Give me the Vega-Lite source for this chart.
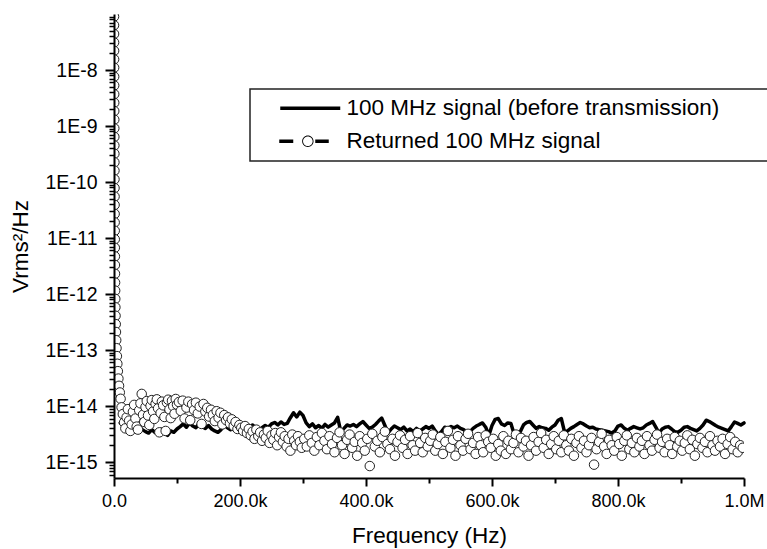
{
  "$schema": "https://vega.github.io/schema/vega-lite/v6.json",
  "autosize": {"type": "none"},
  "width": 630,
  "height": 464,
  "padding": {"left": 114, "top": 14, "right": 23, "bottom": 71},
  "background": "white",
  "config": {
    "font": "Liberation Sans",
    "view": {"stroke": null},
    "axis": {"grid": false, "domainColor": "black", "tickColor": "black", "labelColor": "black", "titleColor": "black", "titleFontWeight": "normal", "labelFont": "Liberation Sans", "titleFont": "Liberation Sans"}
  },
  "datasets": {
    "a": [
      {"f":10000,"v":5.0e-15},{"f":15000,"v":4.4e-15},{"f":20000,"v":5.3e-15},{"f":25000,"v":4.6e-15},{"f":30000,"v":4.0e-15},{"f":35000,"v":4.8e-15},{"f":40000,"v":4.2e-15},{"f":45000,"v":3.8e-15},{"f":50000,"v":3.5e-15},{"f":55000,"v":3.3e-15},
      {"f":60000,"v":3.8e-15},{"f":65000,"v":3.4e-15},{"f":70000,"v":3.2e-15},{"f":75000,"v":3.9e-15},{"f":80000,"v":3.3e-15},{"f":85000,"v":3.0e-15},{"f":90000,"v":3.6e-15},{"f":95000,"v":3.4e-15},{"f":100000,"v":3.9e-15},{"f":105000,"v":4.3e-15},
      {"f":110000,"v":4.8e-15},{"f":115000,"v":4.2e-15},{"f":120000,"v":5.0e-15},{"f":125000,"v":4.4e-15},{"f":130000,"v":4.1e-15},{"f":135000,"v":4.9e-15},{"f":140000,"v":4.3e-15},{"f":145000,"v":4.0e-15},{"f":150000,"v":4.5e-15},{"f":155000,"v":3.9e-15},
      {"f":160000,"v":3.6e-15},{"f":165000,"v":3.4e-15},{"f":170000,"v":3.8e-15},{"f":175000,"v":4.6e-15},{"f":180000,"v":4.1e-15},{"f":185000,"v":3.8e-15},{"f":190000,"v":4.3e-15},{"f":195000,"v":3.9e-15},{"f":200000,"v":4.4e-15},{"f":205000,"v":4.0e-15},
      {"f":210000,"v":3.7e-15},{"f":215000,"v":4.2e-15},{"f":220000,"v":4.6e-15},{"f":225000,"v":4.0e-15},{"f":230000,"v":3.6e-15},{"f":235000,"v":4.1e-15},{"f":240000,"v":4.5e-15},{"f":245000,"v":4.2e-15},{"f":250000,"v":4.8e-15},{"f":255000,"v":5.1e-15},
      {"f":260000,"v":4.6e-15},{"f":265000,"v":5.2e-15},{"f":270000,"v":4.7e-15},{"f":275000,"v":4.9e-15},{"f":280000,"v":6.2e-15},{"f":285000,"v":7.6e-15},{"f":290000,"v":6.4e-15},{"f":295000,"v":7.8e-15},{"f":300000,"v":6.8e-15},{"f":305000,"v":5.0e-15},
      {"f":310000,"v":4.3e-15},{"f":315000,"v":4.8e-15},{"f":320000,"v":4.1e-15},{"f":325000,"v":4.5e-15},{"f":330000,"v":4.0e-15},{"f":335000,"v":4.7e-15},{"f":340000,"v":4.2e-15},{"f":345000,"v":4.6e-15},{"f":350000,"v":5.0e-15},{"f":355000,"v":6.3e-15},
      {"f":360000,"v":3.5e-15},{"f":365000,"v":4.0e-15},{"f":370000,"v":4.6e-15},{"f":375000,"v":4.4e-15},{"f":380000,"v":4.7e-15},{"f":385000,"v":4.3e-15},{"f":390000,"v":4.8e-15},{"f":395000,"v":5.3e-15},{"f":400000,"v":4.6e-15},{"f":405000,"v":4.0e-15},
      {"f":410000,"v":4.2e-15},{"f":415000,"v":4.7e-15},{"f":420000,"v":5.4e-15},{"f":425000,"v":6.1e-15},{"f":430000,"v":4.5e-15},{"f":435000,"v":3.3e-15},{"f":440000,"v":3.9e-15},{"f":445000,"v":4.4e-15},{"f":450000,"v":4.1e-15},{"f":455000,"v":3.8e-15},
      {"f":460000,"v":4.2e-15},{"f":465000,"v":3.6e-15},{"f":470000,"v":3.9e-15},{"f":475000,"v":3.5e-15},{"f":480000,"v":4.0e-15},{"f":485000,"v":3.6e-15},{"f":490000,"v":3.9e-15},{"f":495000,"v":4.3e-15},{"f":500000,"v":4.0e-15},{"f":505000,"v":4.4e-15},
      {"f":510000,"v":3.6e-15},{"f":515000,"v":3.1e-15},{"f":520000,"v":3.5e-15},{"f":525000,"v":4.2e-15},{"f":530000,"v":4.0e-15},{"f":535000,"v":4.3e-15},{"f":540000,"v":4.1e-15},{"f":545000,"v":4.4e-15},{"f":550000,"v":4.0e-15},{"f":555000,"v":3.8e-15},
      {"f":560000,"v":3.4e-15},{"f":565000,"v":3.5e-15},{"f":570000,"v":4.0e-15},{"f":575000,"v":4.4e-15},{"f":580000,"v":4.7e-15},{"f":585000,"v":5.0e-15},{"f":590000,"v":4.2e-15},{"f":595000,"v":3.0e-15},{"f":600000,"v":4.5e-15},{"f":605000,"v":5.8e-15},
      {"f":610000,"v":6.0e-15},{"f":615000,"v":4.8e-15},{"f":620000,"v":4.5e-15},{"f":625000,"v":5.0e-15},{"f":630000,"v":4.9e-15},{"f":635000,"v":3.2e-15},{"f":640000,"v":2.8e-15},{"f":645000,"v":3.5e-15},{"f":650000,"v":4.6e-15},{"f":655000,"v":5.1e-15},
      {"f":660000,"v":5.3e-15},{"f":665000,"v":4.6e-15},{"f":670000,"v":4.0e-15},{"f":675000,"v":4.3e-15},{"f":680000,"v":4.1e-15},{"f":685000,"v":4.0e-15},{"f":690000,"v":3.7e-15},{"f":695000,"v":4.2e-15},{"f":700000,"v":4.6e-15},{"f":705000,"v":5.6e-15},
      {"f":710000,"v":6.0e-15},{"f":715000,"v":3.5e-15},{"f":720000,"v":3.6e-15},{"f":725000,"v":4.0e-15},{"f":730000,"v":4.3e-15},{"f":735000,"v":4.7e-15},{"f":740000,"v":5.1e-15},{"f":745000,"v":4.8e-15},{"f":750000,"v":4.4e-15},{"f":755000,"v":4.1e-15},
      {"f":760000,"v":4.2e-15},{"f":765000,"v":3.9e-15},{"f":770000,"v":3.8e-15},{"f":775000,"v":3.7e-15},{"f":780000,"v":3.6e-15},{"f":785000,"v":3.5e-15},{"f":790000,"v":3.3e-15},{"f":795000,"v":3.6e-15},{"f":800000,"v":4.4e-15},{"f":805000,"v":4.6e-15},
      {"f":810000,"v":4.0e-15},{"f":815000,"v":3.7e-15},{"f":820000,"v":4.0e-15},{"f":825000,"v":4.3e-15},{"f":830000,"v":4.1e-15},{"f":835000,"v":3.9e-15},{"f":840000,"v":4.1e-15},{"f":845000,"v":4.6e-15},{"f":850000,"v":4.9e-15},{"f":855000,"v":5.3e-15},
      {"f":860000,"v":4.2e-15},{"f":865000,"v":3.3e-15},{"f":870000,"v":3.9e-15},{"f":875000,"v":4.2e-15},{"f":880000,"v":4.3e-15},{"f":885000,"v":3.9e-15},{"f":890000,"v":3.5e-15},{"f":895000,"v":3.4e-15},{"f":900000,"v":3.7e-15},{"f":905000,"v":4.2e-15},
      {"f":910000,"v":4.3e-15},{"f":915000,"v":4.0e-15},{"f":920000,"v":3.8e-15},{"f":925000,"v":3.6e-15},{"f":930000,"v":4.0e-15},{"f":935000,"v":4.6e-15},{"f":940000,"v":5.6e-15},{"f":945000,"v":5.3e-15},{"f":950000,"v":4.9e-15},{"f":955000,"v":4.5e-15},
      {"f":960000,"v":4.2e-15},{"f":965000,"v":4.0e-15},{"f":970000,"v":3.8e-15},{"f":975000,"v":3.6e-15},{"f":980000,"v":4.3e-15},{"f":985000,"v":5.2e-15},{"f":990000,"v":4.9e-15},{"f":995000,"v":4.6e-15},{"f":1000000,"v":5.0e-15}
    ],
    "b": [
      {"f":0,"v":1.3e-7},{"f":30,"v":9e-8},{"f":60,"v":6.3e-8},{"f":90,"v":4.4e-8},{"f":120,"v":3.1e-8},{"f":150,"v":2.2e-8},{"f":180,"v":1.55e-8},{"f":210,"v":1.1e-8},{"f":240,"v":7.6e-9},{"f":280,"v":5.3e-9},
      {"f":320,"v":3.7e-9},{"f":360,"v":2.6e-9},{"f":400,"v":1.85e-9},{"f":440,"v":1.3e-9},{"f":480,"v":9.1e-10},{"f":520,"v":6.4e-10},{"f":560,"v":4.5e-10},{"f":610,"v":3.2e-10},{"f":660,"v":2.25e-10},{"f":710,"v":1.6e-10},
      {"f":760,"v":1.12e-10},{"f":820,"v":7.8e-11},{"f":880,"v":5.5e-11},{"f":940,"v":3.9e-11},{"f":1000,"v":2.7e-11},{"f":1070,"v":1.9e-11},{"f":1140,"v":1.35e-11},{"f":1220,"v":9.5e-12},{"f":1300,"v":6.7e-12},{"f":1390,"v":4.7e-12},
      {"f":1480,"v":3.3e-12},{"f":1580,"v":2.3e-12},{"f":1700,"v":1.6e-12},{"f":1830,"v":1.15e-12},{"f":2000,"v":8.2e-13},{"f":2200,"v":5.8e-13},{"f":2450,"v":4.1e-13},{"f":2750,"v":2.9e-13},{"f":3100,"v":2.1e-13},{"f":3500,"v":1.5e-13},
      {"f":4000,"v":1.08e-13},{"f":4600,"v":7.8e-14},{"f":5300,"v":5.7e-14},{"f":6100,"v":4.2e-14},{"f":7000,"v":3.1e-14},{"f":8000,"v":2.3e-14},{"f":9200,"v":1.75e-14},{"f":10500,"v":1.35e-14},
      {"f":12000,"v":9.5e-15},{"f":14000,"v":7.2e-15},{"f":16000,"v":5.1e-15},{"f":18000,"v":4.0e-15},{"f":20000,"v":6.3e-15},{"f":22000,"v":8.8e-15},{"f":24000,"v":5.5e-15},{"f":26000,"v":3.6e-15},{"f":28000,"v":4.7e-15},{"f":30000,"v":7.9e-15},
      {"f":32000,"v":1.05e-14},{"f":34000,"v":6.0e-15},{"f":36000,"v":4.3e-15},{"f":38000,"v":3.8e-15},{"f":40000,"v":8.4e-15},{"f":42000,"v":1.12e-14},{"f":44000,"v":1.65e-14},{"f":46000,"v":7.0e-15},{"f":48000,"v":5.2e-15},{"f":50000,"v":9.6e-15},
      {"f":52000,"v":1.23e-14},{"f":54000,"v":6.8e-15},{"f":56000,"v":4.6e-15},{"f":58000,"v":1.01e-14},{"f":60000,"v":1.28e-14},{"f":62000,"v":8.0e-15},{"f":64000,"v":5.9e-15},{"f":66000,"v":1.1e-14},{"f":68000,"v":1.32e-14},{"f":70000,"v":9.1e-15},
      {"f":72000,"v":3.4e-15},{"f":74000,"v":7.5e-15},{"f":76000,"v":1.2e-14},{"f":78000,"v":1.03e-14},{"f":80000,"v":6.4e-15},{"f":82000,"v":3.6e-15},{"f":84000,"v":1.16e-14},{"f":86000,"v":1.3e-14},{"f":88000,"v":8.7e-15},{"f":90000,"v":6.1e-15},
      {"f":92000,"v":1.24e-14},{"f":94000,"v":9.9e-15},{"f":96000,"v":7.3e-15},{"f":98000,"v":1.34e-14},{"f":100000,"v":1.06e-14},
      {"f":103000,"v":1.18e-14},{"f":106000,"v":8.2e-15},{"f":109000,"v":1.25e-14},{"f":112000,"v":6.0e-15},{"f":115000,"v":9.4e-15},{"f":118000,"v":1.2e-14},{"f":121000,"v":5.6e-15},{"f":124000,"v":1.08e-14},{"f":127000,"v":8.5e-15},{"f":130000,"v":1.15e-14},
      {"f":133000,"v":7.4e-15},{"f":136000,"v":9.8e-15},{"f":139000,"v":4.8e-15},{"f":142000,"v":1.09e-14},{"f":145000,"v":8.0e-15},{"f":148000,"v":9.3e-15},{"f":151000,"v":6.5e-15},{"f":154000,"v":8.6e-15},{"f":157000,"v":7.0e-15},{"f":160000,"v":5.4e-15},
      {"f":163000,"v":8.1e-15},{"f":166000,"v":6.2e-15},{"f":169000,"v":7.6e-15},{"f":172000,"v":4.7e-15},{"f":175000,"v":6.9e-15},{"f":178000,"v":5.6e-15},{"f":181000,"v":6.3e-15},{"f":184000,"v":4.9e-15},{"f":187000,"v":5.8e-15},{"f":190000,"v":4.4e-15},
      {"f":193000,"v":5.2e-15},{"f":196000,"v":3.9e-15},{"f":199000,"v":4.6e-15},{"f":202000,"v":4.1e-15},{"f":205000,"v":3.6e-15},{"f":208000,"v":4.4e-15},{"f":211000,"v":3.3e-15},{"f":214000,"v":3.9e-15},{"f":217000,"v":3.0e-15},{"f":220000,"v":3.5e-15},
      {"f":223000,"v":2.6e-15},{"f":226000,"v":3.8e-15},{"f":229000,"v":2.9e-15},{"f":232000,"v":3.4e-15},{"f":235000,"v":2.4e-15},{"f":238000,"v":3.1e-15},{"f":241000,"v":2.7e-15},{"f":244000,"v":3.6e-15},{"f":247000,"v":2.2e-15},{"f":250000,"v":3.0e-15},
      {"f":253000,"v":2.5e-15},{"f":256000,"v":3.3e-15},{"f":259000,"v":2.0e-15},{"f":262000,"v":2.8e-15},{"f":265000,"v":3.4e-15},{"f":268000,"v":2.3e-15},{"f":271000,"v":2.9e-15},{"f":274000,"v":1.9e-15},{"f":277000,"v":2.6e-15},{"f":280000,"v":1.6e-15},
      {"f":283000,"v":3.1e-15},{"f":286000,"v":2.4e-15},{"f":289000,"v":2.0e-15},{"f":292000,"v":2.9e-15},{"f":295000,"v":2.3e-15},{"f":298000,"v":1.8e-15},
      {"f":302000,"v":2.6e-15},{"f":306000,"v":1.9e-15},{"f":310000,"v":3.0e-15},{"f":314000,"v":2.2e-15},{"f":318000,"v":1.6e-15},{"f":322000,"v":2.8e-15},{"f":326000,"v":2.0e-15},{"f":330000,"v":3.3e-15},{"f":334000,"v":2.4e-15},{"f":338000,"v":1.7e-15},
      {"f":342000,"v":2.9e-15},{"f":346000,"v":2.1e-15},{"f":350000,"v":1.5e-15},{"f":354000,"v":2.7e-15},{"f":358000,"v":3.4e-15},{"f":362000,"v":2.0e-15},{"f":366000,"v":1.4e-15},{"f":370000,"v":2.5e-15},{"f":374000,"v":3.1e-15},{"f":378000,"v":1.8e-15},
      {"f":382000,"v":2.3e-15},{"f":386000,"v":1.3e-15},{"f":390000,"v":2.9e-15},{"f":394000,"v":2.2e-15},{"f":398000,"v":1.6e-15},{"f":402000,"v":2.6e-15},{"f":406000,"v":8.5e-16},{"f":410000,"v":3.2e-15},{"f":414000,"v":1.9e-15},{"f":418000,"v":2.4e-15},
      {"f":422000,"v":1.5e-15},{"f":426000,"v":2.8e-15},{"f":430000,"v":3.5e-15},{"f":434000,"v":2.1e-15},{"f":438000,"v":1.7e-15},{"f":442000,"v":2.6e-15},{"f":446000,"v":1.3e-15},{"f":450000,"v":2.3e-15},{"f":454000,"v":3.0e-15},{"f":458000,"v":1.8e-15},
      {"f":462000,"v":2.5e-15},{"f":466000,"v":1.4e-15},{"f":470000,"v":2.9e-15},{"f":474000,"v":2.0e-15},{"f":478000,"v":1.6e-15},{"f":482000,"v":3.3e-15},{"f":486000,"v":2.2e-15},{"f":490000,"v":1.5e-15},{"f":494000,"v":2.7e-15},{"f":498000,"v":1.9e-15},
      {"f":502000,"v":2.4e-15},{"f":506000,"v":3.1e-15},{"f":510000,"v":1.6e-15},{"f":514000,"v":2.1e-15},{"f":518000,"v":2.8e-15},{"f":522000,"v":1.4e-15},{"f":526000,"v":2.3e-15},{"f":530000,"v":3.6e-15},{"f":534000,"v":1.8e-15},{"f":538000,"v":2.5e-15},
      {"f":542000,"v":1.3e-15},{"f":546000,"v":2.9e-15},{"f":550000,"v":2.0e-15},{"f":554000,"v":1.6e-15},{"f":558000,"v":2.6e-15},{"f":562000,"v":3.2e-15},{"f":566000,"v":1.7e-15},{"f":570000,"v":2.2e-15},{"f":574000,"v":1.4e-15},{"f":578000,"v":2.8e-15},
      {"f":582000,"v":2.0e-15},{"f":586000,"v":1.5e-15},{"f":590000,"v":3.0e-15},{"f":594000,"v":2.3e-15},{"f":598000,"v":1.8e-15},{"f":602000,"v":2.6e-15},{"f":606000,"v":1.3e-15},{"f":610000,"v":2.1e-15},{"f":614000,"v":1.6e-15},{"f":618000,"v":2.9e-15},
      {"f":622000,"v":1.4e-15},{"f":626000,"v":2.4e-15},{"f":630000,"v":1.7e-15},{"f":634000,"v":2.2e-15},{"f":638000,"v":3.1e-15},{"f":642000,"v":1.5e-15},{"f":646000,"v":2.7e-15},{"f":650000,"v":1.9e-15},{"f":654000,"v":2.4e-15},{"f":658000,"v":1.3e-15},
      {"f":662000,"v":2.0e-15},{"f":666000,"v":2.8e-15},{"f":670000,"v":1.6e-15},{"f":674000,"v":2.3e-15},{"f":678000,"v":3.3e-15},{"f":682000,"v":1.8e-15},{"f":686000,"v":2.5e-15},{"f":690000,"v":1.4e-15},{"f":694000,"v":2.1e-15},{"f":698000,"v":2.9e-15},
      {"f":702000,"v":1.7e-15},{"f":706000,"v":2.4e-15},{"f":710000,"v":1.5e-15},{"f":714000,"v":3.0e-15},{"f":718000,"v":2.0e-15},{"f":722000,"v":1.6e-15},{"f":726000,"v":2.6e-15},{"f":730000,"v":1.3e-15},{"f":734000,"v":2.2e-15},{"f":738000,"v":2.9e-15},
      {"f":742000,"v":1.8e-15},{"f":746000,"v":2.4e-15},{"f":750000,"v":1.5e-15},{"f":754000,"v":2.0e-15},{"f":758000,"v":2.7e-15},{"f":762000,"v":9.0e-16},{"f":766000,"v":1.7e-15},{"f":770000,"v":2.3e-15},{"f":774000,"v":3.2e-15},{"f":778000,"v":1.9e-15},
      {"f":782000,"v":1.4e-15},{"f":786000,"v":2.5e-15},{"f":790000,"v":2.0e-15},{"f":794000,"v":1.6e-15},{"f":798000,"v":2.8e-15},{"f":802000,"v":2.1e-15},{"f":806000,"v":1.3e-15},{"f":810000,"v":2.4e-15},{"f":814000,"v":3.0e-15},{"f":818000,"v":1.7e-15},
      {"f":822000,"v":2.2e-15},{"f":826000,"v":1.5e-15},{"f":830000,"v":2.7e-15},{"f":834000,"v":1.9e-15},{"f":838000,"v":2.4e-15},{"f":842000,"v":1.4e-15},{"f":846000,"v":2.9e-15},{"f":850000,"v":2.0e-15},{"f":854000,"v":1.6e-15},{"f":858000,"v":2.5e-15},
      {"f":862000,"v":3.1e-15},{"f":866000,"v":1.8e-15},{"f":870000,"v":2.3e-15},{"f":874000,"v":1.5e-15},{"f":878000,"v":2.6e-15},{"f":882000,"v":2.0e-15},{"f":886000,"v":1.4e-15},{"f":890000,"v":2.8e-15},{"f":894000,"v":1.9e-15},{"f":898000,"v":2.4e-15},
      {"f":902000,"v":1.6e-15},{"f":906000,"v":2.2e-15},{"f":910000,"v":3.0e-15},{"f":914000,"v":1.7e-15},{"f":918000,"v":2.5e-15},{"f":922000,"v":1.3e-15},{"f":926000,"v":2.1e-15},{"f":930000,"v":2.7e-15},{"f":934000,"v":1.8e-15},{"f":938000,"v":2.3e-15},
      {"f":942000,"v":1.5e-15},{"f":946000,"v":2.9e-15},{"f":950000,"v":2.0e-15},{"f":954000,"v":1.6e-15},{"f":958000,"v":2.4e-15},{"f":962000,"v":1.9e-15},{"f":966000,"v":2.6e-15},{"f":970000,"v":1.4e-15},{"f":974000,"v":2.1e-15},{"f":978000,"v":2.8e-15},
      {"f":982000,"v":1.7e-15},{"f":986000,"v":2.3e-15},{"f":990000,"v":1.5e-15},{"f":994000,"v":2.0e-15},{"f":998000,"v":1.8e-15}
    ]
  },
  "layer": [
    {
      "data": {"name": "a"},
      "mark": {"type": "line", "strokeWidth": 3.5, "strokeJoin": "round", "strokeCap": "round"},
      "encoding": {
        "x": {
          "field": "f", "type": "quantitative",
          "scale": {"domain": [0, 1000000], "nice": false, "zero": false},
          "axis": {
            "values": [0, 200000, 400000, 600000, 800000, 1000000],
            "labelExpr": "datum.value == 0 ? '0.0' : (datum.value >= 1000000 ? '1.0M' : format(datum.value / 1000, '.1f') + 'k')",
            "title": "Frequency (Hz)", "titleFontSize": 22.5, "titlePadding": 14,
            "labelFontSize": 18, "labelPadding": 6, "labelFlush": false, "labelOverlap": false,
            "tickSize": 8, "tickWidth": 2, "domainWidth": 2, "zindex": 1
          }
        },
        "y": {
          "field": "v", "type": "quantitative",
          "scale": {"type": "log", "domain": [5.2e-16, 1e-7], "nice": false},
          "axis": {
            "values": [1e-15, 1e-14, 1e-13, 1e-12, 1e-11, 1e-10, 1e-9, 1e-8],
            "labelExpr": "'1E' + round(log(datum.value) / LN10)",
            "title": "Vrms²/Hz", "titleFontSize": 22.5, "titlePadding": 12,
            "labelFontSize": 19.5, "labelPadding": 8, "labelOverlap": false,
            "tickSize": 9, "tickWidth": 2, "domainWidth": 2, "zindex": 1
          }
        },
        "stroke": {
          "datum": "100 MHz signal (before transmission)",
          "scale": {"domain": ["100 MHz signal (before transmission)", "Returned 100 MHz signal"], "range": ["black", "#222222"]},
          "legend": {
            "orient": "none", "legendX": 136, "legendY": 75, "title": null,
            "strokeColor": "#222222", "fillColor": "white", "padding": 8,
            "labelFont": "Liberation Sans", "labelFontSize": 22.5, "labelColor": "black", "labelLimit": 0,
            "symbolSize": 400, "symbolStrokeWidth": 0, "symbolOffset": 41, "labelOffset": 25, "rowPadding": 10,
            "encode": {
              "symbols": {"update": {
                "shape": {"signal": "datum.value === 'Returned 100 MHz signal' ? 'M60,0M-3.1,-0.18H-1.7V0.18H-3.1Z M0.5,-0.18H1.85V0.18H0.5Z M-0.81,0A0.57,0.57 0 1,1 0.33,0A0.57,0.57 0 1,1 -0.81,0Z M-0.72,0A0.48,0.48 0 1,0 0.24,0A0.48,0.48 0 1,0 -0.72,0Z' : 'M60,0M-3,-0.18H3V0.18H-3Z'"},
                "fill": {"value": "black"},
                "fillOpacity": {"value": 1},
                "stroke": {"value": "transparent"},
                "strokeWidth": {"value": 0},
                "opacity": {"value": 1},
                "size": {"value": 400}
              }},
              "legend": {"update": {"strokeWidth": {"value": 1.5}}}
            }
          }
        }
      }
    },
    {
      "data": {"name": "b"},
      "mark": {"type": "point", "shape": "circle", "filled": true, "fill": "white", "strokeWidth": 1, "size": 90, "opacity": 1, "clip": true},
      "encoding": {
        "x": {
          "field": "f", "type": "quantitative",
          "scale": {"domain": [0, 1000000], "nice": false, "zero": false},
          "axis": {"values": [100000, 300000, 500000, 700000, 900000], "labels": false, "title": null, "domain": false, "tickSize": 5, "tickWidth": 2, "orient": "bottom", "zindex": 1}
        },
        "y": {
          "field": "v", "type": "quantitative",
          "scale": {"type": "log", "domain": [5.2e-16, 1e-7], "nice": false},
          "axis": {
            "values": [6e-16, 7e-16, 8e-16, 9e-16, 2e-15, 3e-15, 4e-15, 5e-15, 6e-15, 7e-15, 8e-15, 9e-15, 2e-14, 3e-14, 4e-14, 5e-14, 6e-14, 7e-14, 8e-14, 9e-14, 2e-13, 3e-13, 4e-13, 5e-13, 6e-13, 7e-13, 8e-13, 9e-13, 2e-12, 3e-12, 4e-12, 5e-12, 6e-12, 7e-12, 8e-12, 9e-12, 2e-11, 3e-11, 4e-11, 5e-11, 6e-11, 7e-11, 8e-11, 9e-11, 2e-10, 3e-10, 4e-10, 5e-10, 6e-10, 7e-10, 8e-10, 9e-10, 2e-9, 3e-9, 4e-9, 5e-9, 6e-9, 7e-9, 8e-9, 9e-9, 2e-8, 3e-8, 4e-8, 5e-8, 6e-8, 7e-8, 8e-8, 9e-8],
            "labels": false, "title": null, "domain": false, "tickSize": 5, "tickWidth": 1.5, "orient": "left", "zindex": 1
          }
        },
        "stroke": {"datum": "Returned 100 MHz signal"}
      }
    }
  ],
  "resolve": {"axis": {"x": "independent", "y": "independent"}}
}
